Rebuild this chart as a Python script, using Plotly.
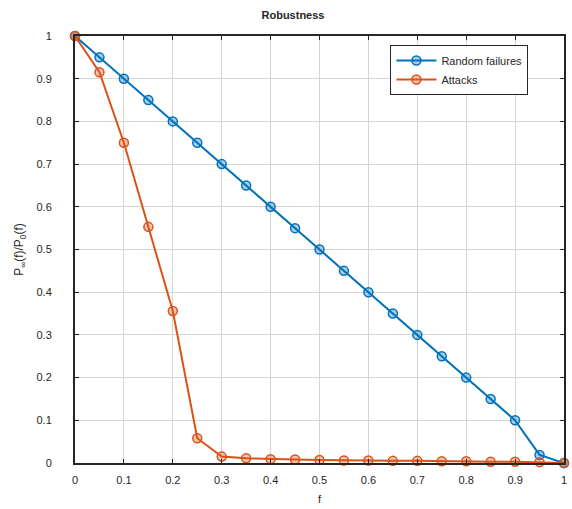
import plotly.graph_objects as go

f_values = [0, 0.05, 0.1, 0.15, 0.2, 0.25, 0.3, 0.35, 0.4, 0.45, 0.5,
            0.55, 0.6, 0.65, 0.7, 0.75, 0.8, 0.85, 0.9, 0.95, 1.0]
random_failures = [1.0, 0.95, 0.9, 0.85, 0.8, 0.75, 0.7, 0.65, 0.6, 0.55, 0.5,
                   0.45, 0.4, 0.35, 0.3, 0.25, 0.2, 0.15, 0.1, 0.019, 0.0]
attacks = [1.0, 0.915, 0.75, 0.553, 0.356, 0.058, 0.015, 0.011, 0.009, 0.008, 0.007,
           0.006, 0.006, 0.005, 0.005, 0.004, 0.004, 0.003, 0.003, 0.002, 0.0]
tick_vals = [0, 0.1, 0.2, 0.3, 0.4, 0.5, 0.6, 0.7, 0.8, 0.9, 1]
tick_text = ["0", "0.1", "0.2", "0.3", "0.4", "0.5", "0.6", "0.7", "0.8", "0.9", "1"]

BLUE = "#0072BD"
ORANGE = "#D95319"
DARK = "#262626"
FONT = "Liberation Sans, Arial, sans-serif"

fig = go.Figure()
fig.add_trace(go.Scatter(
    x=f_values, y=random_failures, mode="lines+markers", name="Random failures",
    line=dict(color=BLUE, width=2),
    marker=dict(symbol="circle", size=9, color="rgba(0,114,189,0.35)",
                line=dict(color=BLUE, width=1.5)),
    cliponaxis=False,
))
fig.add_trace(go.Scatter(
    x=f_values, y=attacks, mode="lines+markers", name="Attacks",
    line=dict(color=ORANGE, width=2),
    marker=dict(symbol="circle", size=9, color="rgba(217,83,25,0.35)",
                line=dict(color=ORANGE, width=1.5)),
    cliponaxis=False,
))

axis_common = dict(
    tickvals=tick_vals, ticktext=tick_text,
    showgrid=True, gridcolor="#d4d4d4", gridwidth=1,
    showline=True, linecolor=DARK, linewidth=2, mirror="ticks",
    tickcolor=DARK, ticks="inside", ticklen=4,
    tickfont=dict(family=FONT, size=11, color=DARK),
    zeroline=False, fixedrange=True, ticklabeloverflow="allow",
)

fig.update_layout(
    width=572, height=509,
    margin=dict(l=75, r=5, t=36, b=46),
    paper_bgcolor="white", plot_bgcolor="white",
    font=dict(family=FONT, size=11, color=DARK),
    title=dict(text="<b>Robustness</b>", x=293/572, xanchor="center",
               y=1 - 15/509, yanchor="middle",
               font=dict(family=FONT, size=11, color=DARK)),
    xaxis=dict(**axis_common, range=[0, 1], ticklabelstandoff=6,
               title=dict(text="f", standoff=10, font=dict(family=FONT, size=11, color=DARK))),
    yaxis=dict(**axis_common, range=[0, 1], ticklabelstandoff=19,
               title=dict(text="P<sub>∞</sub>(f)/P<sub>0</sub>(f)", standoff=10,
                          font=dict(family=FONT, size=12, color=DARK))),
    legend=dict(x=0.645, y=0.979, xanchor="left", yanchor="top",
                bgcolor="white", bordercolor=DARK, borderwidth=1,
                font=dict(family=FONT, size=11, color=DARK),
                itemwidth=40, tracegroupgap=0),
    showlegend=True,
)

fig.write_html("out.html",
               config={"displayModeBar": False},
               post_script="document.body.style.margin='0';document.body.style.overflow='hidden';")
